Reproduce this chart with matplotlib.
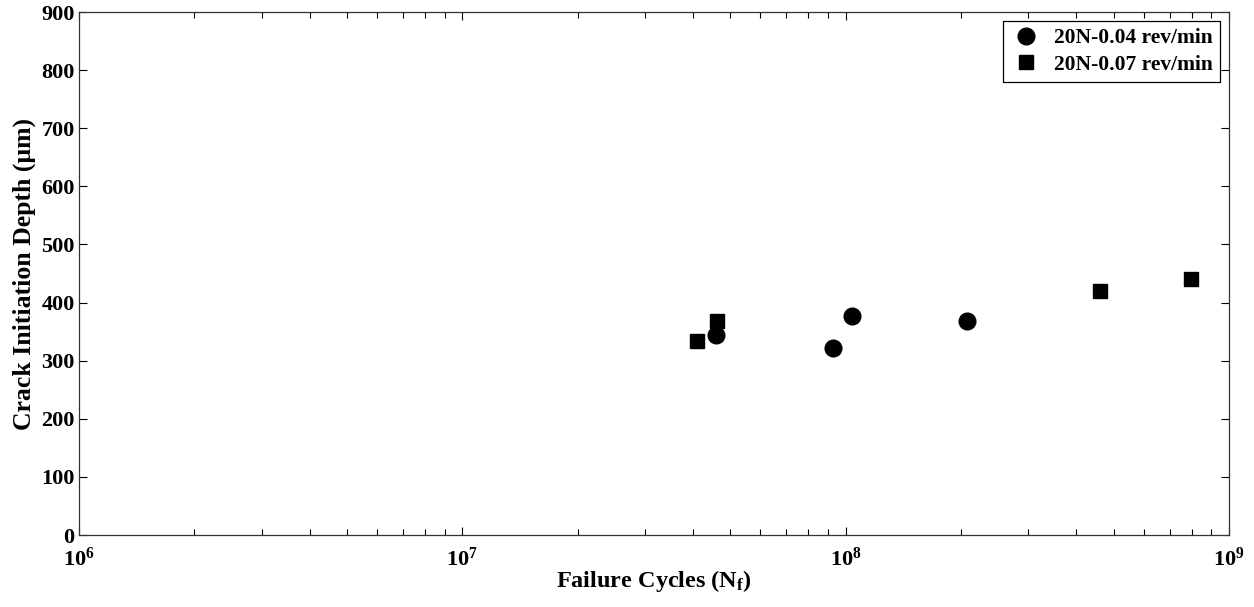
import numpy as np
import matplotlib
matplotlib.use("Agg")
from matplotlib import pyplot as plt

# data
cycles_004 = [4.58e7, 9.25e7, 1.04e8, 2.07e8]
depth_004 = [344, 322, 377, 368]
cycles_007 = [4.11e7, 4.61e7, 4.62e8, 7.98e8]
depth_007 = [334, 368, 420, 441]
labels = ["20N-0.04 rev/min", "20N-0.07 rev/min"]
yticks = [0, 100, 200, 300, 400, 500, 600, 700, 800, 900]

plt.rcParams['font.family'] = 'Liberation Serif'
plt.rcParams['font.weight'] = 'bold'
plt.rcParams['mathtext.fontset'] = 'custom'
plt.rcParams['mathtext.rm'] = 'Liberation Serif:bold'
plt.rcParams['mathtext.bf'] = 'Liberation Serif:bold'
plt.rcParams['mathtext.it'] = 'Liberation Serif:bold'
plt.rcParams['mathtext.default'] = 'bf'

fig = plt.figure(figsize=(12.54, 6.07), dpi=100)
ax = fig.add_axes([0.0628, 0.1186, 0.9172, 0.8616])

ax.plot(cycles_004, depth_004, 'o', color='black', markersize=12, label=labels[0])
ax.plot(cycles_007, depth_007, 's', color='black', markersize=10, label=labels[1])

ax.set_xscale('log')
ax.set_xlim(1e6, 1e9)
ax.set_ylim(0, 900)
ax.set_yticks(yticks)

ax.tick_params(which='both', direction='in', top=True, right=True, labelsize=16)
ax.tick_params(which='major', length=6, width=0.8)
ax.tick_params(which='minor', length=4, width=0.8)
ax.tick_params(axis='x', pad=9)
ax.tick_params(axis='y', pad=3)
for s in ax.spines.values():
    s.set_linewidth(0.9)
    s.set_color('#333333')

ax.set_xlabel("Failure Cycles (N$_\\mathbf{f}$)", fontsize=17.5, fontweight='bold', labelpad=-2)
ax.set_ylabel("Crack Initiation Depth (μm)", fontsize=18.5, fontweight='bold', labelpad=4)

leg = ax.legend(loc='upper right', fontsize=15.5, fancybox=False, edgecolor='black',
                framealpha=1, borderaxespad=0.4, handlelength=1.4, handletextpad=0.6,
                borderpad=0.35, labelspacing=0.3)
leg.get_frame().set_linewidth(0.9)

plt.savefig("out.png", dpi=100)
